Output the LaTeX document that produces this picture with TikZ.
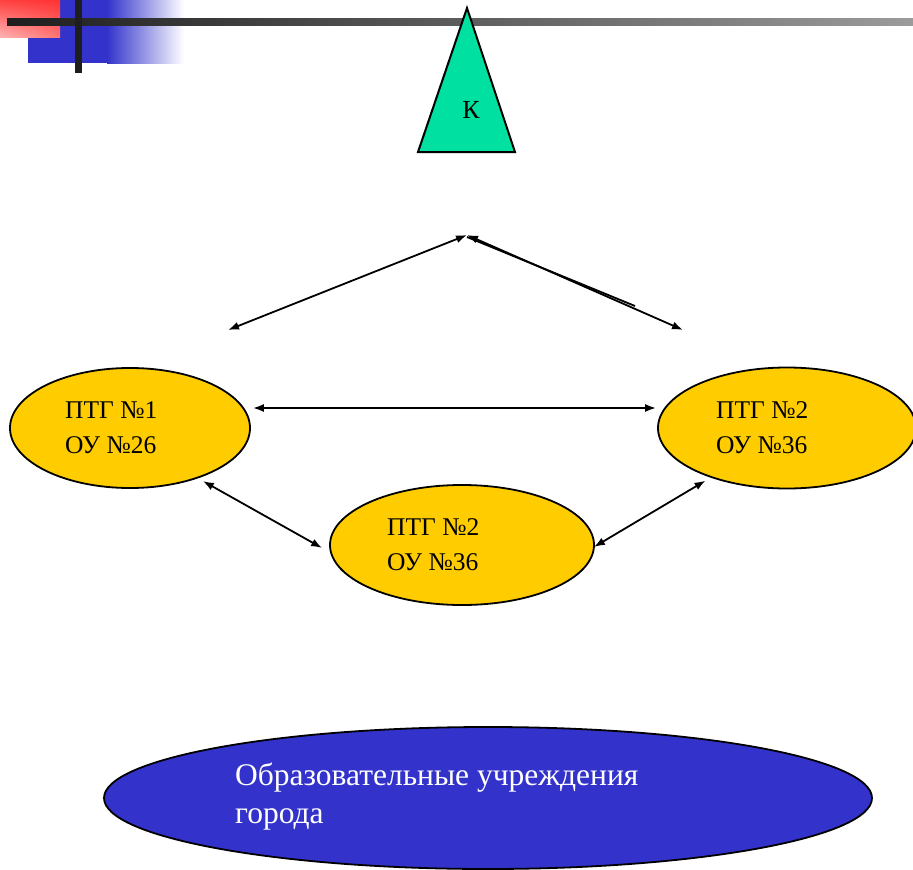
\documentclass[tikz,border=0pt]{standalone}
\usepackage{fontspec}
\setmainfont{Liberation Serif}
\usetikzlibrary{shapes.geometric,arrows.meta,shadings}
\definecolor{ylw}{RGB}{255,204,0}
\definecolor{blu}{RGB}{51,51,204}
\definecolor{mint}{RGB}{0,224,160}
\definecolor{dk}{RGB}{30,30,30}
\definecolor{gr}{RGB}{155,155,155}
\tikzset{
  oval/.style={ellipse,draw=black,line width=1.8pt,fill=ylw,inner sep=0pt},
  lbl/.style={anchor=west,align=left,font=\fontsize{25.5}{35}\selectfont,inner sep=0pt},
  link/.style={line width=1.8pt,{Latex[length=11pt,width=8pt]}-{Latex[length=11pt,width=8pt]}}
}
\begin{document}
\begin{tikzpicture}[x=1pt,y=-1pt]
\useasboundingbox (0,0) rectangle (913,870);
% decoration
\fill[blu] (28,0) rectangle (108,63);
\shade[left color=blu,right color=white] (107,0) rectangle (184,63);
\shade[upper left=red!75,upper right=red!80,lower left=red!30,lower right=red!55] (0,0) rectangle (60,37);
\shade[left color=dk,right color=gr] (7,18) rectangle (913,25);
\fill[dk] (75,0) rectangle (82,73);
% triangle
\draw[line width=2pt,fill=mint,line join=miter] (467,8) -- (515,152) -- (418,152) -- cycle;
\node[font=\fontsize{26}{30}\selectfont] (K) at (471,110) {К};
% ovals
\node[oval,minimum width=240pt,minimum height=120pt] (e1) at (130,428) {};
\node[oval,minimum width=258pt,minimum height=121pt] (e2) at (787,428) {};
\node[oval,minimum width=264pt,minimum height=120pt] (e3) at (462,545) {};
\node[ellipse,draw=black,line width=1.8pt,fill=blu,minimum width=768pt,minimum height=142pt] (e4) at (488,798) {};
\node[lbl] (t1) at (65,428) {ПТГ №1\\ОУ №26};
\node[lbl] (t2) at (716,428) {ПТГ №2\\ОУ №36};
\node[lbl] (t3) at (387,545) {ПТГ №2\\ОУ №36};
\node[lbl,text=white,font=\fontsize{31.5}{38}\selectfont] (t4) at (235,797) {Образовательные учреждения\\города};
% free ends
\coordinate (top) at (467,235);
\coordinate (L) at (228,330);
\coordinate (R) at (683,330);
\coordinate (Rb) at (635,306);
\draw[link] (L) -- (top);
\draw[link] (top) -- (R);
\draw[line width=1.8pt] ([yshift=-2pt]top) -- (Rb);
\draw[link] ([xshift=2pt,yshift=20pt]e1.east) -- ([xshift=-1pt,yshift=20pt]e2.west);
\draw[link] ([xshift=4pt,yshift=-3pt]e1.-36) -- ([xshift=-7pt,yshift=-3pt]e3.west);
\draw[link] ([xshift=-1pt,yshift=-2pt]e3.east) -- ([xshift=-5pt,yshift=-3pt]e2.-147);
\end{tikzpicture}
\end{document}
